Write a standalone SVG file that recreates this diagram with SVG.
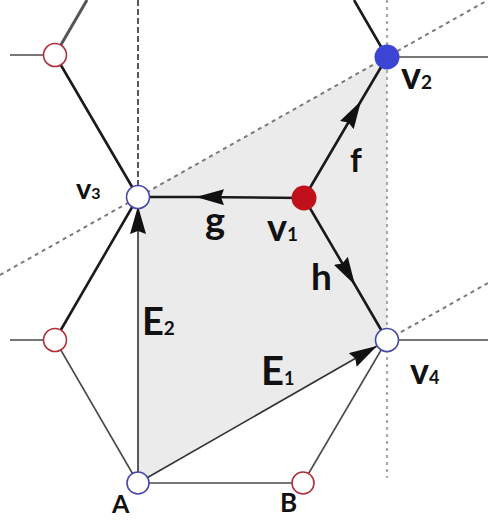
<svg xmlns="http://www.w3.org/2000/svg" width="488" height="521" viewBox="0 0 488 521">
<style>
.lbl{font-family:Lato,"Open Sans","Liberation Sans",sans-serif;font-weight:700;fill:#111}
.thick{stroke:#1a1a1a;stroke-width:2.6;fill:none}
.thin{stroke:#4a4a4a;stroke-width:1.6;fill:none}
.guide{stroke:#222;stroke-width:1.5;stroke-dasharray:6 3;fill:none}
.dot{stroke:#7a7a7a;stroke-width:2;stroke-dasharray:4 4;fill:none}
.vdot{stroke:#aaaaaa;stroke-width:2.2;stroke-dasharray:3 4;fill:none}
.redc{fill:#fff;stroke:#b0303a;stroke-width:1.6}
.bluec{fill:#fff;stroke:#4848a8;stroke-width:1.6}
</style>
<defs>
<marker id="ah" viewBox="0 0 28 16" refX="28" refY="8" markerUnits="userSpaceOnUse" markerWidth="28" markerHeight="16" orient="auto">
<path d="M0,0 L28,8 L0,16 L3,8 z" fill="#111"/>
</marker>
</defs>
<rect width="488" height="521" fill="#fff"/>
<polygon points="138,483 138,197 387,57 387,340" fill="#ebebeb"/>
<g id="connectors">
<line class="guide" x1="138" y1="0" x2="138" y2="186"/>
<line class="vdot" x1="387" y1="0" x2="387" y2="478"/>
<line class="dot" x1="0" y1="275" x2="488" y2="0"/>
<line class="dot" x1="387" y1="340" x2="488" y2="283"/>
<line class="thick" x1="87" y1="0" x2="55" y2="55" style="stroke:#555;stroke-width:3"/>
<line class="thin" x1="10" y1="55" x2="44" y2="55"/>
<line class="thick" x1="55" y1="55" x2="138" y2="197"/>
<line class="thick" x1="138" y1="197" x2="55" y2="340"/>
<line class="thin" x1="10" y1="340" x2="44" y2="340"/>
<line class="thin" x1="55" y1="340" x2="138" y2="483"/>
<line class="thin" x1="138" y1="483" x2="303" y2="483"/>
<line class="thin" x1="303" y1="483" x2="387" y2="340"/>
<line class="thin" x1="387" y1="340" x2="488" y2="340"/>
<line class="thin" x1="387" y1="57" x2="488" y2="57"/>
<line class="thick" x1="354" y1="0" x2="387" y2="57"/>
<path id="g" class="thick" d="M304,198 L196,197 L150,197" marker-mid="url(#ah)"/>
<path id="f" class="thick" d="M304,198 L361,101 L387,57" marker-mid="url(#ah)"/>
<path id="h" class="thick" d="M304,198 L355,285 L387,340" marker-mid="url(#ah)"/>
<path id="E1" class="thin" d="M138,483 L377,346" marker-end="url(#ah)" style="stroke:#333"/>
<path id="E2" class="thin" d="M138,483 L138,206" marker-end="url(#ah)" style="stroke:#333"/>
</g>
<g id="n-tl"><circle class="redc" cx="55" cy="55" r="11.5"/></g>
<g id="n-l"><circle class="redc" cx="55" cy="340" r="11.5"/></g>
<g id="v3"><circle class="bluec" cx="138" cy="197" r="11.5"/>
<text class="lbl" x="76" y="199" font-size="29">v<tspan font-size="16">3</tspan></text></g>
<g id="v1"><circle cx="304" cy="198" r="12.5" fill="#c0101c"/>
<text class="lbl" x="267" y="241" font-size="38">v<tspan font-size="19">1</tspan></text></g>
<g id="v2"><circle cx="387" cy="57" r="12.5" fill="#3c44d4"/>
<text class="lbl" x="401" y="89" font-size="38">v<tspan font-size="19">2</tspan></text></g>
<g id="v4"><circle class="bluec" cx="387" cy="340" r="11.5"/>
<text class="lbl" x="410" y="384" font-size="36">v<tspan font-size="18">4</tspan></text></g>
<g id="A"><circle class="bluec" cx="138" cy="483" r="11"/>
<text class="lbl" x="112" y="513" font-size="25">A</text></g>
<g id="B"><circle class="redc" cx="303" cy="483" r="11"/>
<text class="lbl" x="280" y="512" font-size="26">B</text></g>
<g id="labels">
<text class="lbl" x="205" y="234" font-size="38">g</text>
<text class="lbl" x="350" y="172" font-size="33">f</text>
<text class="lbl" x="311" y="290" font-size="37">h</text>
<text class="lbl" x="142" y="335" font-size="38">E<tspan font-size="19">2</tspan></text>
<text class="lbl" x="261" y="385" font-size="40">E<tspan font-size="18">1</tspan></text>
</g>
</svg>
